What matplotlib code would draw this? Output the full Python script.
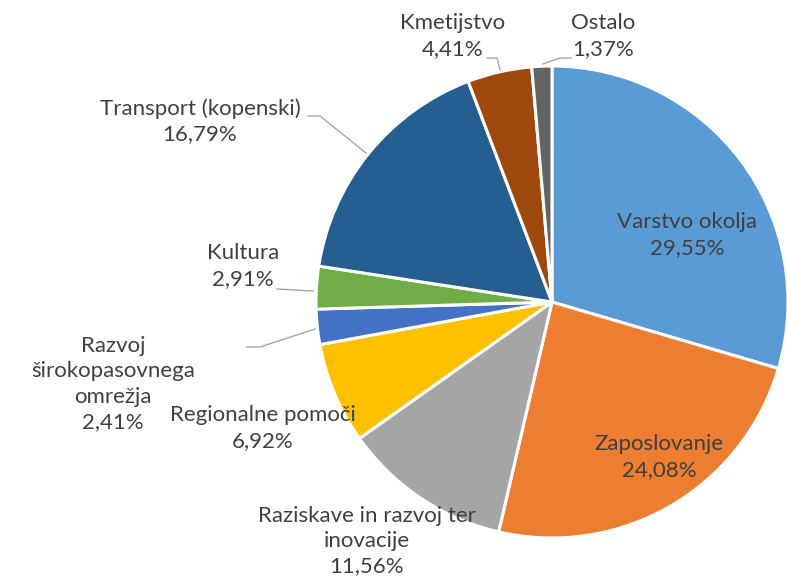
import matplotlib
matplotlib.use('Agg')
import matplotlib.pyplot as plt

# data
labels = ['Varstvo okolja', 'Zaposlovanje', 'Raziskave in razvoj ter\ninovacije',
          'Regionalne pomoči', 'Razvoj\nširokopasovnega\nomrežja', 'Kultura',
          'Transport (kopenski)', 'Kmetijstvo', 'Ostalo']
values = [29.55, 24.08, 11.56, 6.92, 2.41, 2.91, 16.79, 4.41, 1.37]
colors = ['#5B9BD5', '#ED7D31', '#A5A5A5', '#FFC000', '#4472C4',
          '#70AD47', '#255E91', '#9E480E', '#636363']

W, H = 787, 579
plt.rcParams['font.family'] = ['Lato', 'DejaVu Sans']

fig = plt.figure(figsize=(W / 100, H / 100), dpi=100)
ax = fig.add_axes([0, 0, 1, 1])

# pixel coords from top-left -> data coords (y up)
def P(x, y):
    return x, H - y

ax.pie(values, colors=colors, startangle=90, counterclock=False,
       center=P(552, 302), radius=236,
       wedgeprops=dict(edgecolor='white', linewidth=2.2))
ax.set_xlim(0, W)
ax.set_ylim(0, H)
ax.set_aspect('equal')
ax.axis('off')

# label positions (pixel centres of the text block)
label_pos = [(687, 235), (659, 457), (367, 541), (263, 428), (113, 384),
             (243, 266), (200, 121), (453, 36), (603, 36)]
for lab, v, (x, y) in zip(labels, values, label_pos):
    txt = lab + '\n' + ('%.2f' % v).replace('.', ',') + '%'
    ax.text(*P(x, y), txt, ha='center', va='center', fontsize=16,
            color='#404040', linespacing=1.33)

# leader lines
leaders = [
    [(308, 116), (320, 116), (366, 153)],
    [(487, 58), (497, 58), (500, 70)],
    [(571, 58), (560, 58), (543, 64)],
    [(277, 289), (313, 291)],
    [(247, 347), (260, 347), (315, 329)],
]
for pts in leaders:
    xs, ys = zip(*[P(x, y) for x, y in pts])
    ax.plot(xs, ys, color='#A6A6A6', linewidth=1.0)

fig.savefig('out.png', dpi=100)
